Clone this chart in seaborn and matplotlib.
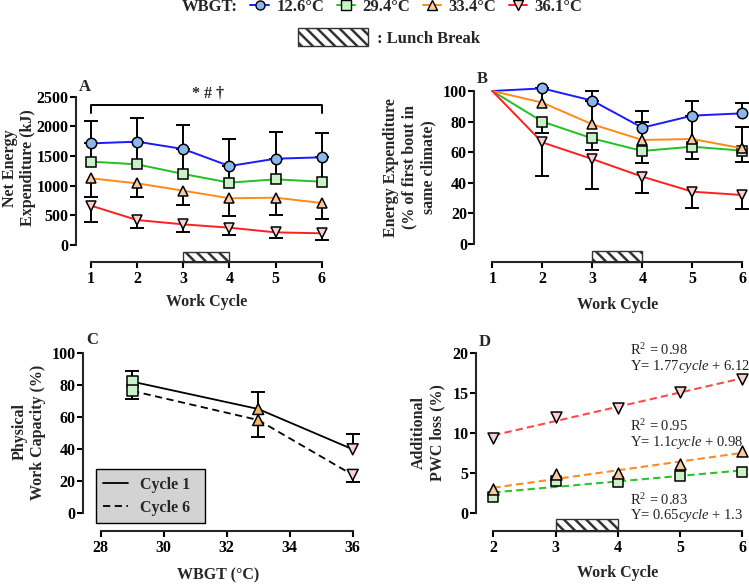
"""
Energy expenditure / physical work capacity across work cycles and climates.
Four panels (A-D), Prism-style offset axes.
"""

import numpy as np
import matplotlib
matplotlib.use('Agg')
import matplotlib.pyplot as plt
from matplotlib.patches import Rectangle, Patch
from matplotlib.lines import Line2D
import seaborn as sns

# Data
CYCLES = [1, 2, 3, 4, 5, 6]
CLIMATES = ['12.6°C', '29.4°C', '33.4°C', '36.1°C']
NAN = np.nan

# A: net energy expenditure (kJ), mean and SD (one-sided bars)
A_EE_126 = [1713, 1742, 1618, 1331, 1455, 1478]
A_SD_126 = [383, 393, 404, 450, 455, 404]      # up
A_EE_294 = [1405, 1360, 1197, 1051, 1107, 1067]
A_SD_294 = [308, 382, 421, 280, 348, 411]      # up
A_EE_334 = [1124, 1039, 916, 787, 798, 708]
A_SD_334 = [309, 236, 248, 293, 292, 270]      # down
A_EE_361 = [663, 421, 348, 292, 213, 197]
A_SD_361 = [270, 140, 123, 129, 95, 113]       # down

# B: energy expenditure, % of first bout
B_EE_126 = [100, 101.7, 93.7, 76.0, 83.9, 85.4]
B_SD_126 = [NAN, NAN, 6.3, 11.1, 9.6, 7.0]     # up
B_EE_294 = [100, 80.0, 69.0, 60.8, 63.6, 61.0]
B_SD_294 = [NAN, 7.2, 7.6, 7.6, 8.3, 7.2]      # down
B_EE_334 = [100, 92.4, 78.2, 68.0, 68.6, 62.5]
B_SD_334 = [NAN, 9.3, 15.5, 12.0, 15.0, 14.2]  # up
B_EE_361 = [100, 66.4, 55.5, 44.0, 34.2, 32.0]
B_SD_361 = [NAN, 22.0, 19.8, 10.4, 10.9, 9.3]  # down

# C: physical work capacity (%) vs WBGT
C_WBGT = [29, 33, 36]
C_CLIMATE = ['29.4°C', '33.4°C', '36.1°C']
C_PWC_1 = [82.3, 65.2, 40.0]
C_SD_1 = [6.9, 10.4, 9.4]      # up
C_PWC_6 = [76.5, 58.3, 24.0]
C_SD_6 = [5.2, 10.4, 4.2]      # down

# D: additional PWC loss (%)
D_CYCLES = [2, 3, 4, 5, 6]
D_LOSS_294 = [2.07, 4.02, 3.94, 4.65, 5.19]
D_LOSS_334 = [2.99, 4.85, 5.06, 6.10, 7.80]
D_LOSS_361 = [9.34, 12.03, 13.15, 15.15, 16.68]
D_R2 = ['0.83', '0.95', '0.98']
D_EQ = [('0.65', '1.3'), ('1.1', '0.98'), ('1.77', '6.12')]

# Style
LINE_COLORS = {'12.6°C': '#1a1aff', '29.4°C': '#1fc21f', '33.4°C': '#ff8a14', '36.1°C': '#ff1f1f'}
FIT_COLORS = {'29.4°C': '#2bc42b', '33.4°C': '#ff8a22', '36.1°C': '#ff4a4a'}
FILLS = {'12.6°C': '#8cb6ee', '29.4°C': '#c9f2c9', '33.4°C': '#f8cba3', '36.1°C': '#f9d2d6'}
C_FILLS = {'29.4°C': '#c9f2c9', '33.4°C': '#f5b46a', '36.1°C': '#f9d2d6'}
MARKERS = {'12.6°C': 'o', '29.4°C': 's', '33.4°C': '^', '36.1°C': 'v'}
HATCH = '\\\\\\'
HATCH_EDGE = '#333333'

sns.set_style('ticks')
plt.rcParams.update({
    'font.family': ['Liberation Serif', 'DejaVu Serif'],
    'font.weight': 'bold',
    'font.size': 11.5,
    'axes.labelweight': 'bold',
    'axes.labelsize': 11.5,
    'axes.linewidth': 1.5,
    'xtick.labelsize': 11.5,
    'ytick.labelsize': 11.5,
    'xtick.major.size': 4,
    'xtick.major.width': 1.5,
    'ytick.major.size': 4.3,
    'ytick.major.width': 1.5,
    'xtick.major.pad': 2.5,
    'ytick.major.pad': 1,
    'xtick.color': 'black',
    'ytick.color': 'black',
    'hatch.linewidth': 1.8,
    'mathtext.fontset': 'custom',
    'mathtext.rm': 'Liberation Serif:normal',
    'mathtext.it': 'Liberation Serif:italic:normal',
    'mathtext.bf': 'Liberation Serif:bold',
})

W, H = 749, 584
fig = plt.figure(figsize=(W / 100, H / 100), dpi=100)
fig.patch.set_facecolor('white')


def px_axes(left, right, top, bottom):
    return fig.add_axes([left / W, 1 - bottom / H, (right - left) / W, (bottom - top) / H])


def prism(ax, xlim, ylim, xb, yb, xticks, yticks):
    ax.set_xlim(*xlim)
    ax.set_ylim(*ylim)
    ax.set_facecolor('none')
    for s in ['top', 'right']:
        ax.spines[s].set_visible(False)
    ax.spines['bottom'].set_bounds(*xb)
    ax.spines['left'].set_bounds(*yb)
    ax.set_xticks(xticks)
    ax.set_yticks(yticks)
    ax.tick_params(direction='out')


def lunch_box(ax, h_px):
    y0, y1 = ax.get_ylim()
    ax_h = ax.get_position().height * H
    h = h_px * (y1 - y0) / ax_h
    ax.add_patch(Rectangle((3, y0), 1, h, facecolor='white', edgecolor=HATCH_EDGE,
                           hatch=HATCH, lw=1.0, clip_on=False, zorder=2))


def err(ax, x, y, sd, up):
    # one-sided SD bar: stem from the mean, cap at the tip only
    x = np.asarray(x, dtype=float)
    y = np.asarray(y, dtype=float)
    sd = np.asarray(sd, dtype=float)
    keep = ~np.isnan(sd)
    x, y, sd = x[keep], y[keep], sd[keep]
    zero = np.zeros_like(sd)
    yerr = [zero, sd] if up else [sd, zero]
    ax.errorbar(x, y, yerr=yerr, fmt='none', ecolor='black', elinewidth=1.4,
                capsize=0, zorder=2)
    tip = y + sd if up else y - sd
    ax.plot(x, tip, ls='none', marker='_', ms=10, mew=1.4, color='black', zorder=2)


def series(ax, x, y, clim, markevery=None):
    sns.lineplot(x=x, y=y, ax=ax, color=LINE_COLORS[clim], lw=1.4, errorbar=None,
                 marker=MARKERS[clim], markersize=7.5 if clim != '29.4°C' else 7,
                 markerfacecolor=FILLS[clim], markeredgecolor='black',
                 markeredgewidth=1.1, markevery=markevery, zorder=3)


# Panel A
axA = px_axes(76, 333.2, 87.8, 261.7)
prism(axA, (0.675, 6.25), (-281.5, 2650), (1, 6), (0, 2500), CYCLES, range(0, 2501, 500))
for ee, sd, clim, up in [(A_EE_126, A_SD_126, '12.6°C', True), (A_EE_294, A_SD_294, '29.4°C', True),
                         (A_EE_334, A_SD_334, '33.4°C', False), (A_EE_361, A_SD_361, '36.1°C', False)]:
    err(axA, CYCLES, ee, sd, up)
    series(axA, CYCLES, ee, clim)
axA.plot([1, 1, 6, 6], [2225, 2360, 2360, 2225], color='black', lw=1.4, clip_on=False)
axA.text(3.54, 2562, '* # †', ha='center', va='center', fontsize=11.5, fontweight='bold')
lunch_box(axA, 10)
axA.set_xlabel('Work Cycle')
axA.set_ylabel('Net Energy\nExpenditure (kJ)')
axA.xaxis.set_label_coords(0.508, -0.184)
axA.yaxis.set_label_coords(-0.155, 0.539)

# Panel B
axB = px_axes(474.3, 748, 81.8, 261.7)
prism(axB, (0.64, 6.114), (-11.57, 106), (1, 6), (0, 100), CYCLES, range(0, 101, 20))
for ee, sd, clim, up in [(B_EE_126, B_SD_126, '12.6°C', True), (B_EE_294, B_SD_294, '29.4°C', False),
                         (B_EE_334, B_SD_334, '33.4°C', True), (B_EE_361, B_SD_361, '36.1°C', False)]:
    err(axB, CYCLES, ee, sd, up)
    series(axB, CYCLES, ee, clim, markevery=[1, 2, 3, 4, 5])
lunch_box(axB, 10.7)
axB.set_xlabel('Work Cycle')
axB.set_ylabel('Energy Expenditure\n(% of first bout in\nsame climate)')
axB.xaxis.set_label_coords(0.522, -0.195)
axB.yaxis.set_label_coords(-0.14, 0.524)

# Panel C
axC = px_axes(82.7, 362, 340.5, 531)
prism(axC, (27.43, 36.295), (-11.06, 108), (28, 36), (0, 100), range(28, 37, 2), range(0, 101, 20))
err(axC, C_WBGT, C_PWC_1, C_SD_1, True)
err(axC, C_WBGT, C_PWC_6, C_SD_6, False)
sns.lineplot(x=C_WBGT, y=C_PWC_1, ax=axC, color='black', lw=1.3, errorbar=None, zorder=2.5)
sns.lineplot(x=C_WBGT, y=C_PWC_6, ax=axC, color='black', lw=1.3, errorbar=None,
             linestyle=(0, (4, 2.5)), zorder=2.5)
for yy in [C_PWC_1, C_PWC_6]:
    sns.scatterplot(x=C_WBGT, y=yy, hue=C_CLIMATE, style=C_CLIMATE, palette=C_FILLS,
                    markers={k: MARKERS[k] for k in C_CLIMATE}, s=62, edgecolor='black',
                    linewidth=1.1, legend=False, ax=axC, zorder=3)
leg = axC.legend(handles=[Line2D([], [], color='black', lw=1.3),
                          Line2D([], [], color='black', lw=1.3, linestyle=(0, (4, 2.5)))],
                 labels=['Cycle 1', 'Cycle 6'], loc='lower left',
                 bbox_to_anchor=(0.0465, 0.042, 0.39, 0.2), mode='expand', borderaxespad=0,
                 fancybox=False, facecolor='#d3d3d3', edgecolor='black', framealpha=1,
                 borderpad=0.45, labelspacing=0.45, handlelength=1.6, handletextpad=0.7)
leg.get_frame().set_linewidth(1.0)
axC.set_xlabel('WBGT (°C)')
axC.set_ylabel('Physical\nWork Capacity (%)')
axC.xaxis.set_label_coords(0.484, -0.19)
axC.yaxis.set_label_coords(-0.131, 0.52)

# Panel D
axD = px_axes(476, 748, 340.7, 531)
prism(axD, (1.722, 6.09), (-2.204, 21.5), (2, 6), (0, 20), D_CYCLES, range(0, 21, 5))
for yy, clim in [(D_LOSS_294, '29.4°C'), (D_LOSS_334, '33.4°C'), (D_LOSS_361, '36.1°C')]:
    sns.regplot(x=np.array(D_CYCLES, dtype=float), y=np.array(yy), ax=axD, scatter=False, ci=None,
                truncate=True, line_kws=dict(color=FIT_COLORS[clim], lw=1.5,
                                             linestyle=(0, (3.5, 2)), zorder=2))
    sns.scatterplot(x=D_CYCLES, y=yy, marker=MARKERS[clim], color=FILLS[clim], s=62,
                    edgecolor='black', linewidth=1.1, legend=False, ax=axD, zorder=3)
for r2, (a, b), yc in zip(D_R2, D_EQ, [0.66, 9.79, 19.3]):
    txt = 'R$^{2}$ = ' + r2 + '\nY= ' + a + r'$\mathit{cycle}$' + ' + ' + b
    axD.text(4.196, yc, txt, ha='left', va='center', fontsize=10.5, linespacing=0.95,
             fontweight='normal', color='#222222', clip_on=False)
lunch_box(axD, 12)
axD.set_xlabel('Work Cycle')
axD.set_ylabel('Additional\nPWC loss (%)')
axD.xaxis.set_label_coords(0.521, -0.179)
axD.yaxis.set_label_coords(-0.114, 0.515)

# Panel letters
for letter, x, y in [('A', 85, 87), ('B', 482, 79), ('C', 91.7, 340), ('D', 485, 341.7)]:
    fig.text(x / W, 1 - y / H, letter, ha='center', va='center', fontsize=12, fontweight='bold')

# Top legends
fig.text(238 / W, 1 - 7 / H, 'WBGT:', ha='right', va='center', fontsize=12, fontweight='bold')
handles = [Line2D([], [], color=LINE_COLORS[c], lw=1.4, marker=MARKERS[c], markersize=6.5,
                  markerfacecolor=FILLS[c], markeredgecolor='black', markeredgewidth=1.0)
           for c in CLIMATES]
fig.legend(handles=handles, labels=CLIMATES, ncol=4, loc='center left',
           bbox_to_anchor=(242 / W, 1 - 7 / H), frameon=False, borderpad=0,
           handlelength=1.1, handletextpad=0.45, columnspacing=0.75,
           prop=dict(size=12, weight='bold'))
fig.legend(handles=[Patch(facecolor='white', edgecolor=HATCH_EDGE, hatch=HATCH, lw=1.0)],
           labels=[': Lunch Break'], loc='center left', bbox_to_anchor=(290 / W, 1 - 37.5 / H),
           frameon=False, borderpad=0, handlelength=4.2, handleheight=1.2, handletextpad=0.5,
           prop=dict(size=12, weight='bold'))

fig.savefig('out.png', dpi=100, facecolor='white')
